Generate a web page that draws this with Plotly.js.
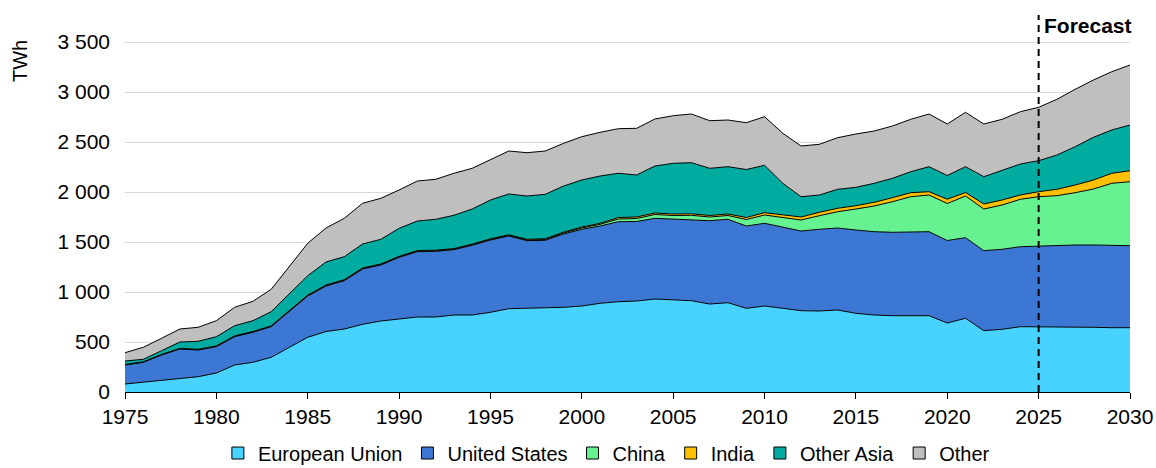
<!DOCTYPE html>
<html>
<head>
<meta charset="utf-8">
<script src="https://cdn.plot.ly/plotly-3.0.1.min.js"></script>
<style>
html,body{margin:0;padding:0;background:#fff;}
#chart{width:1156px;height:468px;}
</style>
</head>
<body>
<div id="chart"></div>
<script>
var years = [];
for (var yr = 1975; yr <= 2030; yr++) years.push(yr);

var seriesNames = ["European Union", "United States", "China", "India", "Other Asia", "Other"];

var europeanUnion = [80,97,113,137,153,190,270,297,347,447,
  547,605,630,677,710,730,750,750,770,770,
  797,833,837,837,847,860,887,903,910,930,
  920,913,880,893,837,860,837,813,810,820,
  787,770,763,763,763,690,737,613,627,653,
  653,647,653,647,643,643];
var unitedStates = [190,200,257,293,267,263,283,300,306,356,
  413,455,483,553,560,617,653,657,653,697,
  723,727,676,680,733,767,773,800,795,807,
  810,814,833,834,823,827,810,797,817,820,
  833,833,834,834,840,825,806,800,800,800,
  807,820,817,823,824,820];
var china = [3,3,4,4,4,5,5,5,5,5,
  5,5,5,5,5,5,5,5,5,5,
  5,5,6,8,10,13,17,27,30,38,
  35,40,37,38,65,83,100,110,136,163,
  210,257,306,356,367,370,417,417,443,474,
  493,496,523,560,620,640];
var india = [2,2,2,2,3,3,3,3,3,4,
  4,5,5,5,5,5,6,6,6,7,
  7,8,8,8,8,10,10,15,15,15,
  15,15,15,15,20,23,23,30,34,34,
  33,37,40,40,33,43,35,50,50,43,
  50,64,77,90,100,110];
var otherAsia = [35,25,37,64,80,92,102,108,142,168,
  194,230,230,240,247,280,296,309,333,351,
  388,407,433,444,462,470,473,442,420,470,
  507,511,472,473,480,474,317,203,173,190,
  184,190,194,210,250,237,258,273,293,310,
  310,343,383,427,433,457];
var other = [83,120,124,130,140,160,184,194,224,273,
  324,340,384,407,410,383,400,400,420,407,
  407,430,433,433,427,433,437,446,467,470,
  476,487,476,467,468,486,500,507,507,516,
  533,523,523,524,527,515,544,527,514,523,
  534,557,574,573,583,600];

var seriesValues = [europeanUnion, unitedStates, china, india, otherAsia, other];
var colors = ["#48d2ff", "#3c78d3", "#66f291", "#ffc000", "#00ab9f", "#bfbfbf"];

var forecastYear = 2025;
var yTicks = [0, 500, 1000, 1500, 2000, 2500, 3000, 3500];
var xTicks = [1975, 1980, 1985, 1990, 1995, 2000, 2005, 2010, 2015, 2020, 2025, 2030];

var FONT = "Arial, 'Liberation Sans', sans-serif";

var traces = [];
seriesValues.forEach(function (vals, i) {
  traces.push({
    type: "scatter",
    x: years,
    y: vals,
    stackgroup: "one",
    mode: "lines",
    line: {color: "#000000", width: 1},
    fillcolor: colors[i],
    name: seriesNames[i],
    showlegend: false,
    hoverinfo: "skip"
  });
});
// legend entries with square swatches
seriesValues.forEach(function (vals, i) {
  traces.push({
    type: "scatter",
    x: [null],
    y: [null],
    mode: "markers",
    marker: {symbol: "square", size: 12, color: colors[i], line: {color: "#000000", width: 1}},
    name: seriesNames[i],
    showlegend: true,
    hoverinfo: "skip"
  });
});

var layout = {
  width: 1156,
  height: 468,
  margin: {l: 125, r: 26, t: 15, b: 76},
  paper_bgcolor: "#ffffff",
  plot_bgcolor: "#ffffff",
  font: {family: FONT, size: 21, color: "#000000"},
  separators: ". ",
  showlegend: true,
  legend: {
    orientation: "h",
    xref: "paper",
    yref: "container",
    x: 0.479,
    xanchor: "center",
    y: 0.032,
    yanchor: "middle",
    font: {family: FONT, size: 20, color: "#000000"},
    itemwidth: 30,
    tracegroupgap: 0,
    traceorder: "normal",
    bgcolor: "rgba(0,0,0,0)"
  },
  xaxis: {
    range: [1975, 2030],
    tickvals: xTicks,
    ticktext: xTicks.map(String),
    ticks: "outside",
    ticklen: 6,
    tickcolor: "#000000",
    tickwidth: 1,
    showline: true,
    linecolor: "#000000",
    linewidth: 1,
    showgrid: false,
    zeroline: false,
    automargin: false,
    tickfont: {family: FONT, size: 21, color: "#000000"}
  },
  yaxis: {
    range: [0, 3770],
    tickvals: yTicks,
    separatethousands: true,
    tickformat: ",d",
    showline: false,
    ticks: "",
    ticklabelstandoff: 14,
    showgrid: true,
    gridcolor: "#d9d9d9",
    gridwidth: 1,
    zeroline: false,
    automargin: false,
    tickfont: {family: FONT, size: 21, color: "#000000"}
  },
  shapes: [{
    type: "line",
    xref: "x", yref: "paper",
    x0: forecastYear, x1: forecastYear,
    y0: 0, y1: 1,
    line: {color: "#000000", width: 2, dash: "7px,5px"},
    layer: "above"
  }],
  annotations: [
    {
      text: "<b>Forecast</b>",
      xref: "x", yref: "y",
      x: forecastYear, y: 3670,
      xanchor: "left", yanchor: "middle",
      xshift: 3,
      showarrow: false,
      font: {family: FONT, size: 21, color: "#000000"}
    },
    {
      text: "TWh",
      xref: "paper", yref: "y",
      x: -0.1045, y: 3310,
      xanchor: "center", yanchor: "middle",
      textangle: -90,
      showarrow: false,
      font: {family: FONT, size: 20, color: "#000000"}
    }
  ]
};

Plotly.newPlot("chart", traces, layout, {staticPlot: true, displayModeBar: false});
</script>
</body>
</html>
